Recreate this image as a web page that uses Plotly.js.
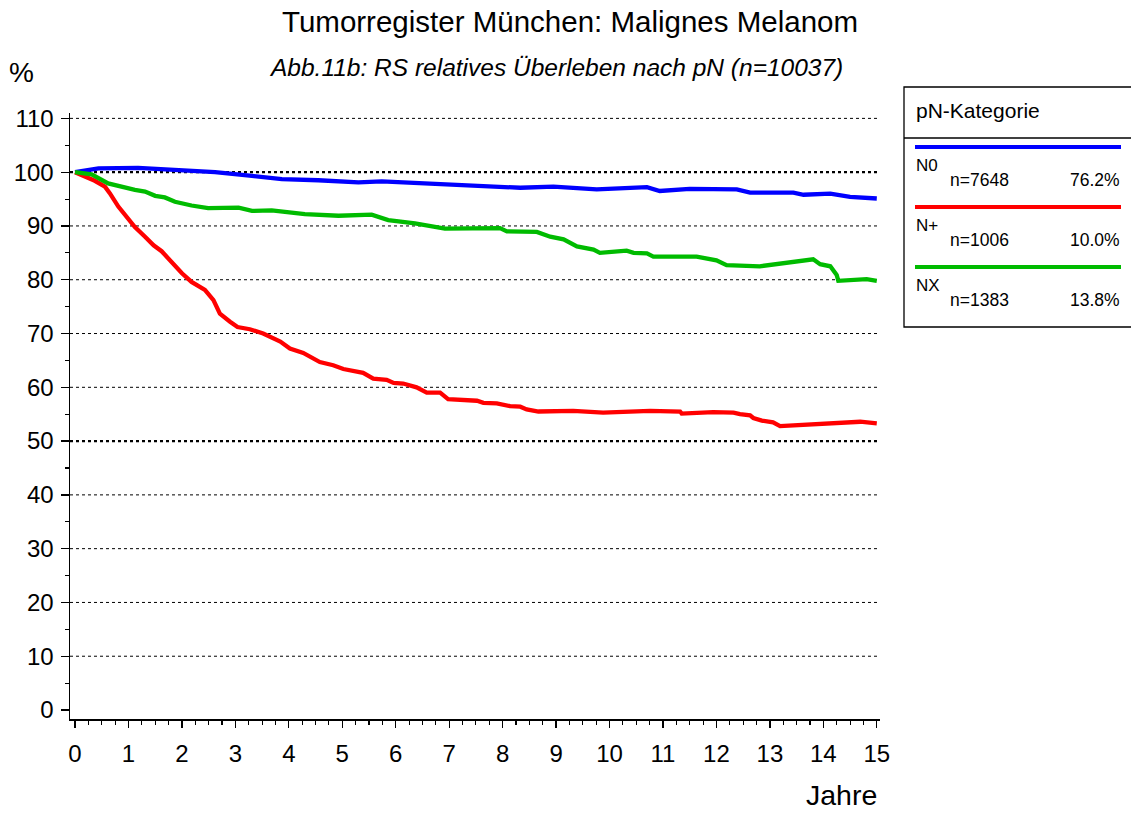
<!DOCTYPE html>
<html>
<head>
<meta charset="utf-8">
<script src="https://cdn.plot.ly/plotly-3.0.1.min.js"></script>
<style>html,body{margin:0;padding:0;background:#fff;}#chart{width:1131px;height:814px;}</style>
</head>
<body>
<div id="chart"></div>
<script>
// ---- data ----
const n0Years = [0, 0.44, 1.18, 1.87, 2.62, 3.31, 3.87, 4.55, 5.3, 5.74, 6.36, 6.98, 7.39, 7.61, 8.33, 8.95, 9.76, 10.7, 10.94, 11.5, 12.38, 12.63, 13.44, 13.63, 14.13, 14.5, 15.0];
const n0Values = [100, 100.7, 100.8, 100.4, 100.0, 99.3, 98.7, 98.5, 98.1, 98.3, 98.0, 97.7, 97.6, 97.4, 97.1, 97.3, 96.8, 97.2, 96.5, 96.9, 96.8, 96.2, 96.2, 95.8, 96.0, 95.4, 95.1];

const nPlusYears = [0, 0.37, 0.56, 0.65, 0.81, 0.97, 1.12, 1.31, 1.47, 1.62, 1.81, 2.0, 2.18, 2.43, 2.59, 2.71, 2.9, 3.04, 3.27, 3.52, 3.84, 4.02, 4.27, 4.58, 4.83, 5.02, 5.39, 5.58, 5.83, 5.96, 6.14, 6.39, 6.58, 6.83, 6.98, 7.26, 7.52, 7.64, 7.89, 8.14, 8.33, 8.45, 8.67, 9.32, 9.88, 10.76, 11.32, 11.35, 11.94, 12.32, 12.44, 12.63, 12.69, 12.85, 13.06, 13.19, 13.81, 14.69, 15.0];
const nPlusValues = [100, 98.4, 97.3, 96.1, 93.6, 91.7, 89.8, 88.0, 86.4, 85.3, 83.3, 81.2, 79.6, 78.1, 76.2, 73.7, 72.2, 71.2, 70.8, 70.0, 68.5, 67.2, 66.4, 64.7, 64.1, 63.4, 62.7, 61.6, 61.4, 60.8, 60.7, 60.0, 59.0, 59.0, 57.8, 57.6, 57.5, 57.1, 57.0, 56.5, 56.4, 55.9, 55.5, 55.6, 55.3, 55.6, 55.5, 55.1, 55.4, 55.3, 55.0, 54.8, 54.3, 53.8, 53.5, 52.8, 53.1, 53.6, 53.3];

const nxYears = [0, 0.31, 0.62, 0.94, 1.12, 1.31, 1.5, 1.68, 1.87, 2.18, 2.49, 3.06, 3.31, 3.68, 4.3, 4.93, 5.55, 5.86, 6.36, 6.92, 7.39, 7.95, 8.08, 8.64, 8.89, 9.14, 9.39, 9.7, 9.82, 10.32, 10.45, 10.7, 10.82, 11.63, 12.0, 12.19, 12.81, 13.81, 13.94, 14.13, 14.25, 14.28, 14.81, 15.0];
const nxValues = [100, 99.6, 97.9, 97.0, 96.7, 96.4, 95.6, 95.3, 94.5, 93.8, 93.3, 93.4, 92.8, 92.9, 92.2, 91.9, 92.1, 91.1, 90.5, 89.5, 89.6, 89.6, 89.0, 88.9, 88.0, 87.5, 86.2, 85.6, 85.0, 85.4, 85.0, 84.9, 84.3, 84.3, 83.6, 82.7, 82.5, 83.8, 82.9, 82.5, 80.9, 79.8, 80.1, 79.8];

const categories = ["N0", "N+", "NX"];
const counts = ["n=7648", "n=1006", "n=1383"];
const shares = ["76.2%", "10.0%", "13.8%"];
const colors = ["#0000ff", "#ff0000", "#00bb00"];
const yTickVals = [0, 10, 20, 30, 40, 50, 60, 70, 80, 90, 100, 110];
const xTickVals = [0, 1, 2, 3, 4, 5, 6, 7, 8, 9, 10, 11, 12, 13, 14, 15];
const gridLevels = [10, 20, 30, 40, 50, 60, 70, 80, 90, 100, 110];
const heavyGrid = [50, 100];

// ---- layout helpers (pixel -> paper) ----
const L = 70, R = 880, T = 113, B = 719;
const W = 1131, H = 814;
const px = x => (x - L) / (R - L);
const py = y => (B - y) / (B - T);
const FONT = "Arial, 'Liberation Sans', sans-serif";

const seriesX = [n0Years, nPlusYears, nxYears];
const seriesY = [n0Values, nPlusValues, nxValues];
const traces = categories.map((c, i) => ({
  x: seriesX[i], y: seriesY[i], name: c, type: "scatter", mode: "lines",
  line: {color: colors[i], width: 4.3, shape: "linear"}, hoverinfo: "x+y+name"
}));

const shapes = [];
gridLevels.forEach(v => {
  const heavy = heavyGrid.includes(v);
  shapes.push({type: "line", xref: "paper", yref: "y", x0: 0, x1: 1, y0: v, y1: v,
    line: {color: "#000", width: heavy ? 2.2 : 1, dash: "dot"}, layer: "below"});
});

// legend box
const LX0 = 904, LX1 = 1140, LY0 = 87, LY1 = 327, LSEP = 138;
shapes.push({type: "rect", xref: "paper", yref: "paper", x0: px(LX0), x1: px(LX1), y0: py(LY1), y1: py(LY0),
  line: {color: "#000", width: 1.3}, fillcolor: "rgba(0,0,0,0)"});
shapes.push({type: "line", xref: "paper", yref: "paper", x0: px(LX0), x1: px(LX1), y0: py(LSEP), y1: py(LSEP),
  line: {color: "#000", width: 1.3}});

const annotations = [];
const entryTop = [147, 207, 267];
categories.forEach((c, i) => {
  const ly = entryTop[i];
  shapes.push({type: "line", xref: "paper", yref: "paper", x0: px(915), x1: px(1121), y0: py(ly), y1: py(ly),
    line: {color: colors[i], width: 4}});
  annotations.push({xref: "paper", yref: "paper", x: px(914), y: py(ly + 18), xanchor: "left", yanchor: "middle",
    text: c, showarrow: false, font: {family: FONT, size: 17, color: "#000"}});
  annotations.push({xref: "paper", yref: "paper", x: px(948), y: py(ly + 33), xanchor: "left", yanchor: "middle",
    text: counts[i], showarrow: false, font: {family: FONT, size: 17.5, color: "#000"}});
  annotations.push({xref: "paper", yref: "paper", x: px(1122), y: py(ly + 33), xanchor: "right", yanchor: "middle",
    text: shares[i], showarrow: false, font: {family: FONT, size: 17.5, color: "#000"}});
});
annotations.push({xref: "paper", yref: "paper", x: px(914), y: py(110), xanchor: "left", yanchor: "middle",
  text: "pN-Kategorie", showarrow: false, font: {family: FONT, size: 21, color: "#000"}});
annotations.push({xref: "paper", yref: "paper", x: px(556), y: py(68), xanchor: "center", yanchor: "middle",
  text: "<i>Abb.11b: RS relatives Überleben nach pN (n=10037)</i>", showarrow: false,
  font: {family: FONT, size: 24.5, color: "#000"}});
annotations.push({xref: "paper", yref: "paper", x: px(7), y: py(72), xanchor: "left", yanchor: "middle",
  text: "%", showarrow: false, font: {family: FONT, size: 28, color: "#000"}});
annotations.push({xref: "paper", yref: "paper", x: px(879), y: py(813), xanchor: "right", yanchor: "bottom",
  text: "Jahre", showarrow: false, font: {family: FONT, size: 28.5, color: "#000"}});

const layout = {
  width: W, height: H,
  margin: {l: L, r: W - R, t: T, b: H - B, pad: 0},
  paper_bgcolor: "#fff", plot_bgcolor: "#fff",
  showlegend: false,
  title: {text: "Tumorregister München: Malignes Melanom", xref: "container", yref: "container",
    x: 570 / W, y: 1 - 22 / H, xanchor: "center", yanchor: "middle",
    font: {family: FONT, size: 29.5, color: "#000"}},
  xaxis: {range: [-0.094, 15.06], tickvals: xTickVals, ticktext: xTickVals.map(String),
    showgrid: false, zeroline: false, showline: true, linecolor: "#000", linewidth: 1.5,
    ticks: "outside", ticklen: 7, tickwidth: 1.3, tickcolor: "#000", ticklabelstandoff: 6,
    minor: {dtick: 0.25, tick0: 0, ticks: "outside", ticklen: 4, tickwidth: 1.1, tickcolor: "#000", showgrid: false},
    tickfont: {family: FONT, size: 24, color: "#000"}, fixedrange: true},
  yaxis: {range: [-1.67, 111.0], tickvals: yTickVals, ticktext: yTickVals.map(String),
    showgrid: false, zeroline: false, showline: true, linecolor: "#000", linewidth: 1.5,
    ticks: "outside", ticklen: 8, tickwidth: 1.3, tickcolor: "#000", ticklabelstandoff: 2,
    minor: {dtick: 5, tick0: 0, ticks: "outside", ticklen: 4, tickwidth: 1.1, tickcolor: "#000", showgrid: false},
    tickfont: {family: FONT, size: 24, color: "#000"}, fixedrange: true},
  shapes: shapes,
  annotations: annotations
};

Plotly.newPlot("chart", traces, layout, {displayModeBar: false, staticPlot: true});
</script>
</body>
</html>
